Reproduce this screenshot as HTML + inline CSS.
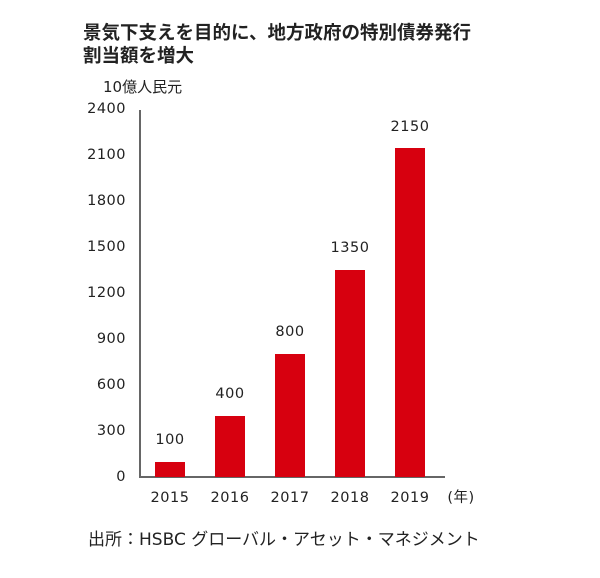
<!DOCTYPE html>
<html><head><meta charset="utf-8"><style>
body{margin:0;background:#fff;width:600px;height:573px;overflow:hidden}
text{font-family:"DejaVu Sans","Noto Sans CJK JP",sans-serif}
</style></head><body>
<svg width="600" height="573" xmlns="http://www.w3.org/2000/svg">
<text x="83" y="39" font-size="18.5" font-weight="bold" font-family="Noto Sans CJK JP,sans-serif" fill="#222">景気下支えを目的に、地方政府の特別債券発行</text>
<text x="83" y="62" font-size="18.5" font-weight="bold" font-family="Noto Sans CJK JP,sans-serif" fill="#222">割当額を増大</text>
<text x="103" y="92" font-size="15" fill="#222">10億人民元</text>
<g font-size="14.5" fill="#222" text-anchor="end" letter-spacing="0.5">
<text x="126" y="113">2400</text><text x="126" y="159">2100</text><text x="126" y="205">1800</text>
<text x="126" y="251">1500</text><text x="126" y="297">1200</text><text x="126" y="343">900</text>
<text x="126" y="389">600</text><text x="126" y="435">300</text><text x="126" y="481">0</text>
</g>
<line x1="140" y1="110" x2="140" y2="477" stroke="#666" stroke-width="2"/>
<line x1="139" y1="477" x2="445" y2="477" stroke="#666" stroke-width="2"/>
<g fill="#d7000f">
<rect x="155" y="462" width="30" height="15"/>
<rect x="215" y="416" width="30" height="61"/>
<rect x="275" y="354" width="30" height="123"/>
<rect x="335" y="270" width="30" height="207"/>
<rect x="395" y="148" width="30" height="329"/>
</g>
<g font-size="14.5" fill="#222" text-anchor="middle" letter-spacing="0.5">
<text x="170" y="444">100</text><text x="230" y="398">400</text><text x="290" y="336">800</text>
<text x="350" y="252">1350</text><text x="410" y="131">2150</text>
<text x="170" y="502">2015</text><text x="230" y="502">2016</text><text x="290" y="502">2017</text>
<text x="350" y="502">2018</text><text x="410" y="502">2019</text>
<text x="461" y="502">(年)</text>
</g>
<text x="88" y="545" font-size="17" fill="#222">出所：HSBC グローバル・アセット・マネジメント</text>
</svg>
</body></html>
